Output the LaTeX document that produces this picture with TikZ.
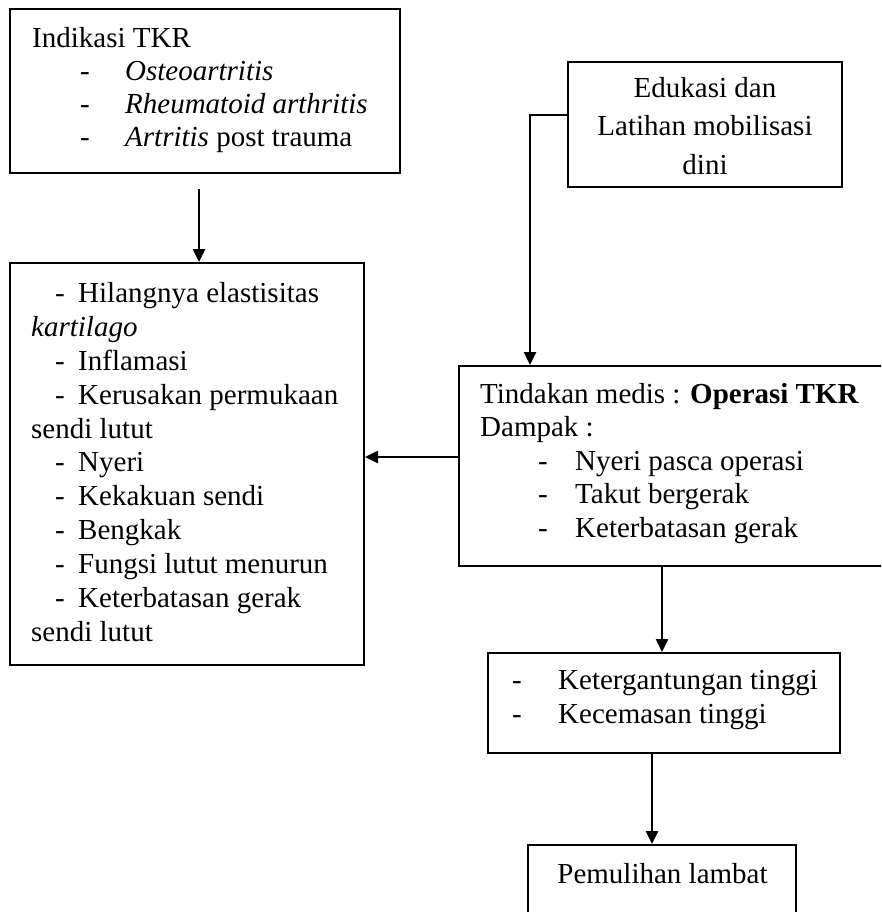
\documentclass[tikz,border=0pt]{standalone}
\usepackage{fontspec}
\setmainfont{Liberation Serif}
\usetikzlibrary{arrows.meta}
\tikzset{
  box/.style={draw, line width=2pt, rectangle, inner sep=0pt},
  txt/.style={anchor=base west, inner sep=0pt, font=\fontsize{29}{34}\selectfont},
  ctxt/.style={anchor=base, inner sep=0pt, font=\fontsize{29}{34}\selectfont},
  arr/.style={line width=2.5pt, -{Triangle[length=13pt,width=12pt]}}
}
\begin{document}
\begin{tikzpicture}[x=1pt,y=-1pt]
\useasboundingbox (0,0) rectangle (881,912);
\clip (0,0) rectangle (881,912);
% boxes
\node[box, minimum width=390pt, minimum height=164pt] (ind) at (205,91) {};
\node[box, minimum width=354pt, minimum height=402pt] (sym) at (187,464) {};
\node[box, minimum width=274pt, minimum height=125pt] (edu) at (705,124.5) {};
\node[box, minimum width=431pt, minimum height=200pt] (op) at (674.5,466) {};
\node[box, minimum width=352pt, minimum height=100pt] (dep) at (664,703) {};
\node[box, minimum width=268pt, minimum height=80pt] (pem) at (662,885) {};
% box 1 text
\node[txt] (t1) at (32,48) {Indikasi TKR};
\node[txt] (t1d1) at (80,81) {-};
\node[txt] (t1a) at (125,81) {\itshape Osteoartritis};
\node[txt] (t1d2) at (80,114) {-};
\node[txt] (t1b) at (125,114) {\itshape Rheumatoid arthritis};
\node[txt] (t1d3) at (80,147) {-};
\node[txt] (t1c) at (125,147) {\textit{Artritis} post trauma};
% box 2 text
\node[txt] (s1d) at (55,302) {-};
\node[txt] (s1) at (78,302) {Hilangnya elastisitas};
\node[txt] (s1b) at (31,336) {\itshape kartilago};
\node[txt] (s2d) at (55,370) {-};
\node[txt] (s2) at (78,370) {Inflamasi};
\node[txt] (s3d) at (55,404) {-};
\node[txt] (s3) at (78,404) {Kerusakan permukaan};
\node[txt] (s3b) at (31,438) {sendi lutut};
\node[txt] (s4d) at (55,471.5) {-};
\node[txt] (s4) at (78,471.5) {Nyeri};
\node[txt] (s5d) at (55,505) {-};
\node[txt] (s5) at (78,505) {Kekakuan sendi};
\node[txt] (s6d) at (55,539) {-};
\node[txt] (s6) at (78,539) {Bengkak};
\node[txt] (s7d) at (55,573) {-};
\node[txt] (s7) at (78,573) {Fungsi lutut menurun};
\node[txt] (s8d) at (55,607) {-};
\node[txt] (s8) at (78,607) {Keterbatasan gerak};
\node[txt] (s8b) at (31,641) {sendi lutut};
% box 3 text
\node[ctxt] (e1) at (705,98) {Edukasi dan};
\node[ctxt] (e2) at (705,136) {Latihan mobilisasi};
\node[ctxt] (e3) at (705,175) {dini};
% box 4 text
\node[txt] (o1) at (480,403) {Tindakan medis : \textbf{Operasi TKR}};
\node[txt] (o2) at (480,436) {Dampak :};
\node[txt] (o3d) at (538,470) {-};
\node[txt] (o3) at (575,470) {Nyeri pasca operasi};
\node[txt] (o4d) at (538,503) {-};
\node[txt] (o4) at (575,503) {Takut bergerak};
\node[txt] (o5d) at (538,537) {-};
\node[txt] (o5) at (575,537) {Keterbatasan gerak};
% box 5 text
\node[txt] (d1d) at (512,689) {-};
\node[txt] (d1) at (558,689) {Ketergantungan tinggi};
\node[txt] (d2d) at (512,723) {-};
\node[txt] (d2) at (558,723) {Kecemasan tinggi};
% box 6 text
\node[ctxt] (p1) at (662.5,883) {Pemulihan lambat};
% connectors
\coordinate (a1) at (199,189);
\draw[arr] (a1) -- (a1 |- sym.north);
\draw[arr] ([yshift=9.5pt]edu.west) -| ([xshift=-144.5pt]op.north);
\draw[arr] ([yshift=9pt]op.west) -- ([yshift=9pt]op.west -| sym.east);
\draw[arr] ([xshift=-12.5pt]op.south) -- ([xshift=-12.5pt]op.south |- dep.north);
\draw[arr] ([xshift=-12pt]dep.south) -- ([xshift=-12pt]dep.south |- pem.north);
\end{tikzpicture}
\end{document}
